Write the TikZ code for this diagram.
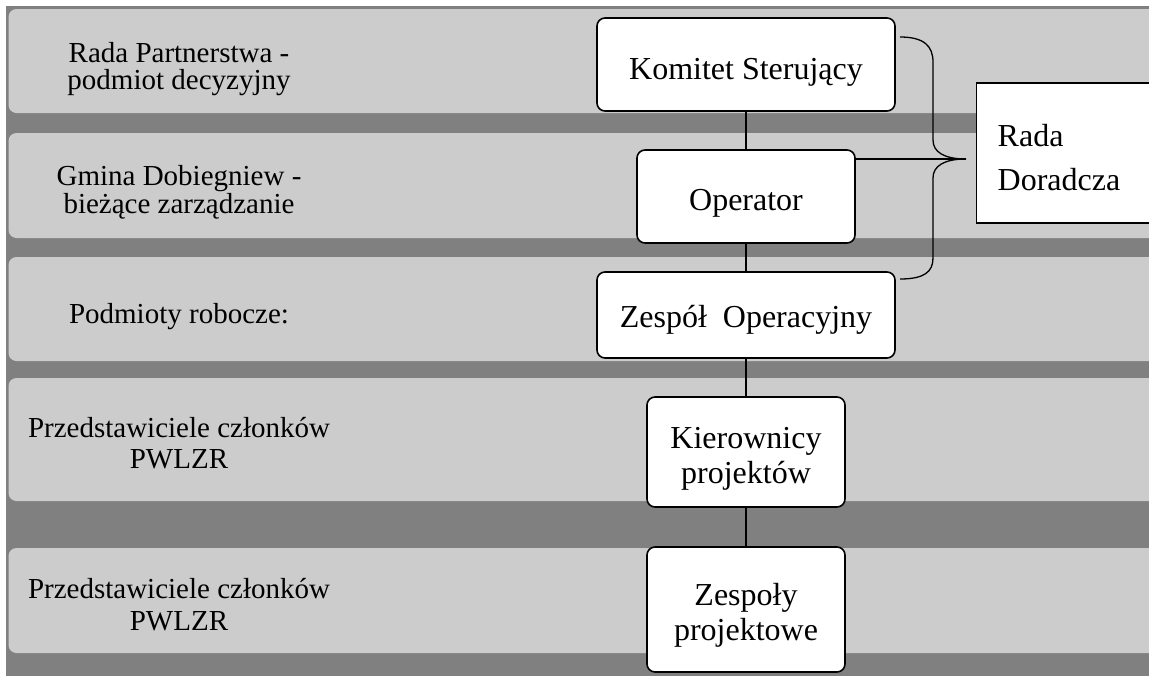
\documentclass[tikz,border=0pt]{standalone}
\usepackage{fontspec}
\setmainfont{Liberation Serif}
\definecolor{bandlight}{HTML}{CCCCCC}
\definecolor{banddark}{HTML}{808080}
\begin{document}
\begin{tikzpicture}[x=1pt,y=-1pt,
  orgbox/.style={draw=black, line width=1.6pt, fill=white, rounded corners=8pt,
    font=\fontsize{32}{35}\selectfont, align=center, inner sep=0pt},
  lefttext/.style={font=\fontsize{29}{27}\selectfont, align=center, anchor=base, inner sep=0pt},
  link/.style={line width=1.3pt},
  band/.style={fill=bandlight, rounded corners=8pt}]
\useasboundingbox (0,0) rectangle (1149,675);
\clip (0,0) rectangle (1165,690);
% background bands
\fill[banddark] (6,6) rectangle (1180,700);
\fill[band] (8.5,9) rectangle (1190,113);
\fill[band] (8.5,133) rectangle (1190,238);
\fill[band] (8.5,257) rectangle (1190,361);
\fill[band] (8.5,378) rectangle (1190,501);
\fill[band] (8.5,548) rectangle (1190,653);
% left labels (base anchor = last line baseline)
\node[lefttext] (l1) at (179,89) {Rada Partnerstwa -\\podmiot decyzyjny};
\node[lefttext, font=\fontsize{29}{26}\selectfont] (l2) at (179,213) {Gmina Dobiegniew -\\bieżące zarządzanie};
\node[lefttext] (l3) at (179,323) {Podmioty robocze:};
\node[lefttext, font=\fontsize{29}{31}\selectfont] (l4) at (179,468) {Przedstawiciele członków\\PWLZR};
\node[lefttext, font=\fontsize{29}{32}\selectfont] (l5) at (179,630) {Przedstawiciele członków\\PWLZR};
% boxes
\node[orgbox, minimum width=298pt, minimum height=93pt, text height=36pt, text depth=7pt] (ks) at (746,64.5) {Komitet Sterujący};
\node[orgbox, minimum width=218pt, minimum height=93pt, text height=34pt, text depth=7pt] (op) at (746,196.5) {Operator};
\node[orgbox, minimum width=298pt, minimum height=86pt, text height=31pt, text depth=7pt] (zo) at (746,315) {Zespół\ \ Operacyjny};
\node[orgbox, minimum width=198pt, minimum height=110pt, text height=69pt, text depth=7pt] (kp) at (746,452) {Kierownicy\\projektów};
\node[orgbox, minimum width=198pt, minimum height=125pt, text height=68pt, text depth=7pt] (zp) at (746,609.5) {Zespoły\\projektowe};
% connectors
\draw[link] (ks.south) -- (op.north);
\draw[link] (op.south) -- (zo.north);
\draw[link] (zo.south) -- (kp.north);
\draw[link] (kp.south) -- (zp.north);
% brace
\coordinate (bt) at (900,37);
\coordinate (bb) at (900,279);
\coordinate (tip) at (966,159);
\draw[link] (bt) .. controls (924,37) and (933,46) .. (933,62) -- (933,140)
  .. controls (933,152) and (944,159) .. (tip)
  .. controls (944,159) and (933,166) .. (933,178) -- (933,258)
  .. controls (933,272) and (924,279) .. (bb);
\draw[link] (tip -| op.east) -- (tip);
% Rada Doradcza
\node[draw=black, line width=1.4pt, fill=white, font=\fontsize{32}{44}\selectfont,
  align=left, text width=150pt, inner xsep=21pt, inner ysep=0pt,
  minimum height=140pt, text height=30pt, text depth=44pt, anchor=west] (rd) at (976,153) {Rada\\Doradcza};
\end{tikzpicture}
\end{document}
